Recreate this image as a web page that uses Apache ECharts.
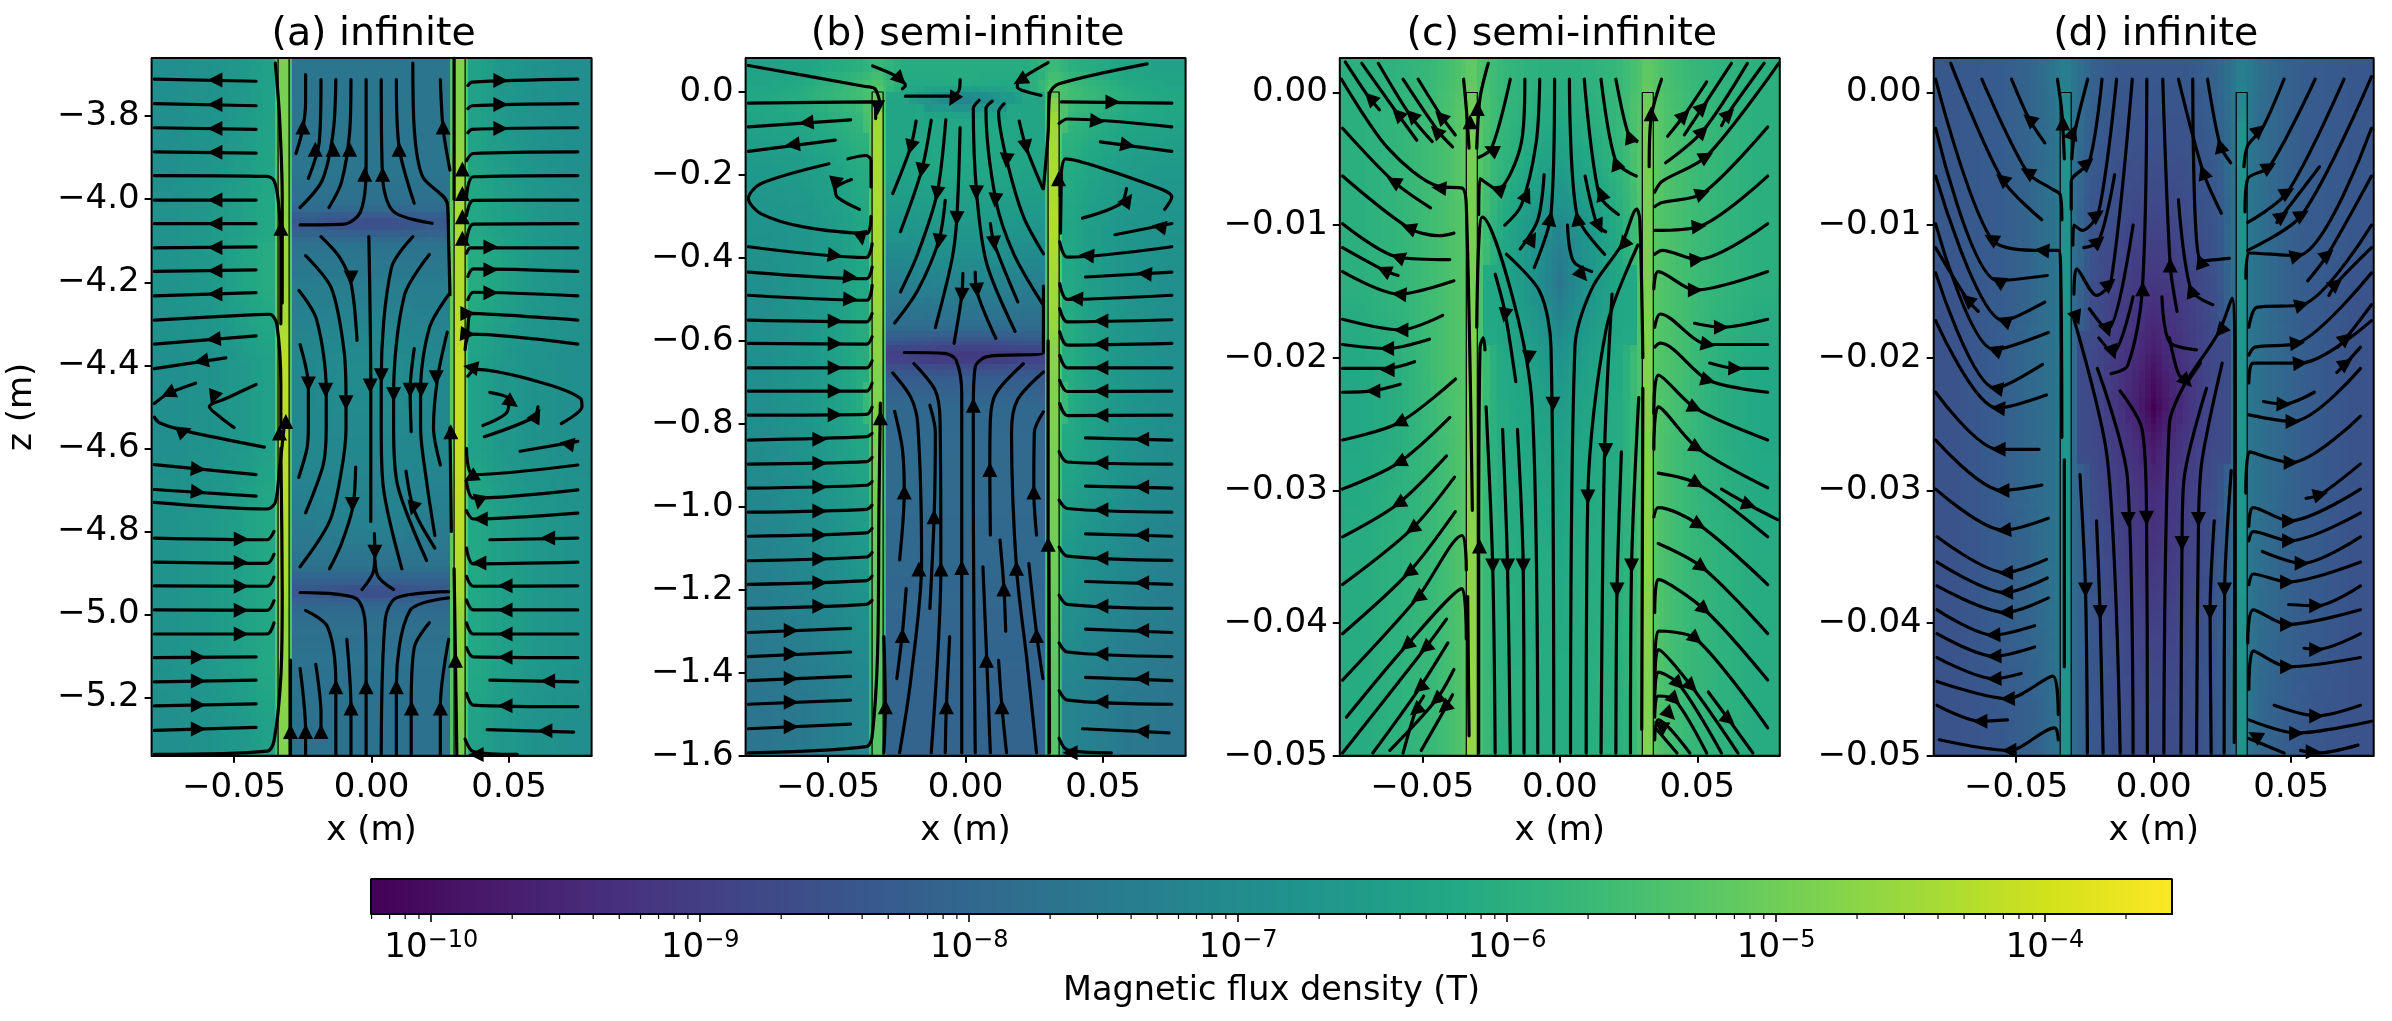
<!DOCTYPE html>
<html>
<head>
<meta charset="utf-8">
<title>Magnetic flux density</title>
<script src="https://cdn.jsdelivr.net/npm/echarts@6/dist/echarts.min.js"></script>
<style>
html, body { margin: 0; padding: 0; background: #fff; }
#chart { width: 2392px; height: 1021px; }
</style>
</head>
<body>
<div id="chart"></div>
<script>
// colour scale of the figure, log10(T)
var logMin = -10.224;
var logMax = -3.528;
var viridis = ['#440154','#481a6c','#472f7d','#414487','#39568c','#31688e','#2a788e','#23888e','#1f988b','#22a884','#35b779','#54c568','#7ad151','#a5db36','#d2e21b','#fde725'];
var colorbarTicks = [-10,-9,-8,-7,-6,-5,-4];

var panelTitles = ['(a) infinite','(b) semi-infinite','(c) semi-infinite','(d) infinite'];
var xTicks = [-0.05,0,0.05];
var zTicksA = [-3.8,-4.0,-4.2,-4.4,-4.6,-4.8,-5.0,-5.2];
var zTicksB = [0,-0.2,-0.4,-0.6,-0.8,-1.0,-1.2,-1.4,-1.6];
var zTicksC = [0,-0.01,-0.02,-0.03,-0.04,-0.05];
var zTicksD = [0,-0.01,-0.02,-0.03,-0.04,-0.05];
var wallEdges = [-34,-30,30,34]; // mm

// field grids: cell edges (x in mm, z in m for a,b and mm for c,d), values are 10*log10(B)
var columnsA = [-80,-65,-50,-42,-35,-34,-30,-29,-15,-5,5,15,28.5,30,34,35,42,50,65,80];
var rowsA = [-3.66,-3.85,-4.0,-4.03,-4.045,-4.075,-4.09,-4.13,-4.3,-4.5,-4.7,-4.85,-4.915,-4.93,-4.96,-4.98,-5.05,-5.2,-5.34];
var fieldA = [
[-69,-68,-66,-64,-54,-49,-55,-76,-76,-76,-76,-76,-54,-48,-54,-64,-66,-68,-69],
[-69,-67,-65,-63,-54,-48,-55,-76,-76,-76,-76,-76,-53,-46,-53,-63,-65,-67,-69],
[-68,-66,-64,-62,-53,-47,-54,-78,-78,-78,-78,-78,-52,-44,-52,-62,-64,-66,-68],
[-68,-66,-64,-62,-53,-47,-54,-82,-83,-83,-83,-82,-52,-44,-52,-62,-64,-66,-68],
[-68,-66,-64,-62,-53,-46,-54,-84,-87,-88,-87,-84,-52,-44,-52,-62,-64,-66,-68],
[-68,-66,-64,-62,-53,-46,-54,-81,-82,-82,-82,-81,-52,-44,-52,-62,-64,-66,-68],
[-68,-66,-63,-61,-52,-45,-53,-77,-77,-77,-77,-77,-51,-43,-51,-61,-63,-66,-68],
[-68,-66,-63,-61,-52,-45,-53,-74,-74,-74,-74,-74,-51,-43,-51,-61,-63,-66,-68],
[-69,-68,-66,-64,-53,-42,-54,-71,-70,-70,-70,-71,-52,-41,-52,-64,-66,-68,-69],
[-69,-68,-66,-64,-53,-42,-54,-71,-71,-71,-71,-71,-52,-41,-52,-64,-66,-68,-69],
[-68,-66,-64,-62,-53,-43,-54,-74,-73,-73,-73,-74,-52,-42,-52,-62,-64,-66,-68],
[-68,-66,-64,-62,-53,-44,-54,-77,-77,-77,-77,-77,-52,-43,-52,-62,-64,-66,-68],
[-68,-66,-64,-62,-53,-44,-54,-82,-82,-82,-82,-82,-52,-44,-52,-62,-64,-66,-68],
[-68,-66,-64,-62,-53,-45,-54,-84,-87,-88,-87,-84,-52,-44,-52,-62,-64,-66,-68],
[-68,-66,-64,-62,-53,-45,-54,-81,-81,-81,-81,-81,-52,-45,-52,-62,-64,-66,-68],
[-68,-66,-64,-62,-53,-46,-54,-78,-78,-78,-78,-78,-53,-46,-53,-62,-64,-66,-68],
[-68,-66,-64,-62,-54,-46,-55,-77,-77,-77,-77,-77,-53,-47,-53,-62,-64,-66,-68],
[-69,-68,-66,-64,-55,-48,-56,-77,-77,-77,-77,-77,-54,-49,-54,-64,-66,-68,-69]
];
var columnsB = [-80,-65,-50,-42,-35.2,-34,-30,-29,-15,-5,5,15,29,30,34,35,42,50,65,80];
var rowsB = [0.082,0.03,0,-0.03,-0.1,-0.25,-0.4,-0.55,-0.59,-0.61,-0.625,-0.655,-0.67,-0.7,-0.8,-1.0,-1.3,-1.6];
var fieldB = [
[-64,-63,-61,-60,-58,-57,-58,-61,-61,-61,-61,-61,-58,-57,-58,-60,-61,-63,-64],
[-63,-61,-58,-56,-54,-54,-56,-62,-62,-61,-62,-62,-56,-54,-54,-56,-58,-61,-63],
[-62,-60,-57,-56,-54,-50,-55,-63,-70,-74,-70,-63,-55,-49,-54,-56,-57,-60,-62],
[-63,-62,-60,-58,-53,-45,-54,-63,-62,-62,-62,-63,-54,-45,-53,-58,-60,-62,-63],
[-66,-65,-63,-61,-53,-44,-54,-63,-62,-62,-62,-63,-54,-44,-53,-61,-63,-65,-66],
[-68,-67,-65,-63,-53,-44,-54,-67,-66,-66,-66,-67,-54,-43,-53,-63,-65,-67,-68],
[-69,-67,-65,-62,-53,-45,-54,-74,-73,-73,-73,-74,-54,-45,-53,-62,-65,-67,-69],
[-69,-67,-64,-61,-53,-47,-55,-79,-79,-79,-79,-79,-55,-46,-53,-61,-64,-67,-69],
[-69,-67,-64,-61,-53,-47,-55,-84,-85,-85,-85,-84,-55,-47,-53,-61,-64,-67,-69],
[-69,-67,-64,-61,-53,-47,-55,-88,-89,-89,-89,-88,-55,-47,-53,-61,-64,-67,-69],
[-69,-67,-64,-61,-53,-47,-55,-90,-92,-92,-92,-90,-55,-47,-53,-61,-64,-67,-69],
[-69,-67,-64,-61,-53,-48,-55,-86,-87,-87,-87,-86,-55,-47,-53,-61,-64,-67,-69],
[-69,-67,-64,-61,-53,-48,-55,-83,-83,-83,-83,-83,-55,-48,-53,-61,-64,-67,-69],
[-69,-67,-64,-61,-54,-48,-56,-80,-80,-80,-80,-80,-55,-48,-54,-61,-64,-67,-69],
[-70,-68,-65,-63,-55,-49,-56,-79,-79,-79,-79,-79,-56,-49,-55,-63,-65,-68,-70],
[-73,-71,-69,-67,-56,-51,-57,-80,-80,-80,-80,-80,-56,-50,-56,-67,-69,-71,-73],
[-76,-75,-73,-72,-57,-53,-58,-81,-81,-81,-81,-81,-57,-53,-57,-72,-73,-75,-76]
];
var columnsC = [-80,-65,-50,-42,-36,-34,-30,-28,-18,-8,-3,3,8,18,28,30,34,36,42,50,65,80];
var rowsC = [2.6,0,-4,-8,-11,-13,-16,-19,-23,-30,-40,-50];
var fieldC = [
[-60,-59,-57,-55,-53,-52,-54,-57,-59,-60,-60,-60,-59,-57,-54,-52,-53,-55,-57,-59,-60],
[-60,-58,-56,-54,-52,-49,-53,-57,-60,-61,-62,-61,-60,-57,-53,-49,-52,-54,-56,-58,-60],
[-60,-58,-56,-54,-52,-49,-53,-58,-62,-64,-65,-64,-62,-58,-53,-49,-52,-54,-56,-58,-60],
[-60,-58,-56,-54,-53,-49,-54,-60,-65,-68,-70,-68,-65,-60,-54,-49,-53,-54,-56,-58,-60],
[-60,-58,-56,-54,-53,-49,-54,-61,-66,-70,-74,-70,-66,-61,-54,-49,-53,-54,-56,-58,-60],
[-60,-58,-56,-54,-53,-49,-54,-62,-66,-71,-76,-71,-66,-62,-54,-49,-53,-54,-56,-58,-60],
[-61,-59,-56,-54,-53,-48,-54,-62,-65,-68,-71,-68,-65,-62,-54,-48,-53,-54,-56,-59,-61],
[-62,-60,-56,-54,-53,-48,-54,-61,-63,-65,-67,-65,-63,-61,-54,-48,-53,-54,-56,-60,-62],
[-62,-60,-57,-55,-53,-48,-55,-61,-62,-63,-64,-63,-62,-61,-55,-48,-53,-55,-57,-60,-62],
[-61,-59,-57,-55,-53,-47,-55,-60,-61,-61,-62,-61,-61,-60,-55,-47,-53,-55,-57,-59,-61],
[-61,-59,-57,-55,-53,-46,-55,-60,-60,-61,-61,-61,-60,-60,-55,-48,-53,-55,-57,-59,-61]
];
var columnsD = [-80,-65,-50,-42,-36,-34,-30,-28,-18,-8,-3,3,8,18,28,30,34,36,42,50,65,80];
var rowsD = [2.6,0,-5,-10,-14,-18,-21,-22.5,-25,-28,-32,-38,-44,-50];
var fieldD = [
[-84,-83,-81,-78,-75,-74,-76,-81,-84,-84,-84,-84,-84,-81,-76,-74,-75,-78,-81,-83,-84],
[-84,-83,-81,-79,-76,-68,-77,-82,-85,-85,-85,-85,-85,-82,-77,-68,-76,-79,-81,-83,-84],
[-84,-83,-81,-78,-76,-68,-78,-84,-86,-87,-87,-87,-86,-84,-78,-68,-76,-78,-81,-83,-84],
[-84,-83,-81,-78,-76,-68,-78,-85,-88,-90,-90,-90,-88,-85,-78,-68,-76,-78,-81,-83,-84],
[-85,-83,-81,-78,-76,-67,-79,-86,-90,-92,-93,-92,-90,-86,-79,-67,-76,-78,-81,-83,-85],
[-85,-83,-80,-78,-76,-67,-79,-87,-91,-94,-97,-94,-91,-87,-79,-67,-76,-78,-80,-83,-85],
[-85,-83,-80,-78,-76,-67,-79,-87,-92,-96,-100,-96,-92,-87,-79,-67,-76,-78,-80,-83,-85],
[-85,-83,-80,-78,-76,-67,-79,-87,-92,-97,-102,-97,-92,-87,-79,-67,-76,-78,-80,-83,-85],
[-85,-83,-80,-78,-76,-67,-79,-87,-91,-94,-98,-94,-91,-87,-79,-67,-76,-78,-80,-83,-85],
[-85,-83,-80,-78,-76,-67,-79,-86,-90,-92,-94,-92,-90,-86,-79,-67,-76,-78,-80,-83,-85],
[-85,-83,-81,-78,-76,-67,-79,-85,-89,-91,-92,-91,-89,-85,-79,-67,-76,-78,-81,-83,-85],
[-85,-83,-81,-79,-76,-68,-79,-84,-87,-89,-89,-89,-87,-84,-79,-68,-76,-79,-81,-83,-85],
[-85,-84,-82,-80,-77,-68,-79,-84,-86,-87,-87,-87,-86,-84,-79,-68,-77,-80,-82,-84,-85]
];

// streamlines as [x mm, z], arrows as [x mm, z, heading in degrees counterclockwise from up]
var streamsA = [
[[-42,-3.716],[-79,-3.711]],[[-42,-3.775],[-79,-3.77]],[[-42,-3.832],[-79,-3.828]],[[-42,-3.889],[-79,-3.886]],
[[-79,-3.943],[-38,-3.945],[-35.5,-3.955],[-34,-4.0],[-33,-4.1],[-33,-4.3]],
[[-42,-4.002],[-79,-4.002]],[[-42,-4.059],[-79,-4.059]],[[-42,-4.115],[-79,-4.117]],[[-42,-4.17],[-79,-4.174]],[[-42,-4.225],[-79,-4.233]],
[[-79,-4.291],[-42,-4.278],[-37,-4.277],[-34.5,-4.3],[-33,-4.45],[-33,-4.55]],
[[-42,-4.329],[-79,-4.349]],[[-53,-4.382],[-79,-4.408]],[[-64,-4.443],[-74,-4.468],[-79,-4.492]],
[[-42,-4.446],[-53,-4.48],[-59,-4.5],[-55,-4.525],[-50,-4.55]],
[[-79,-4.525],[-77,-4.539],[-67,-4.559],[-39,-4.597]],
[[-35,-3.672],[-33.5,-3.8],[-32.5,-4.0],[-32.5,-4.25]],
[[-79,-4.639],[-42,-4.663]],[[-79,-4.699],[-42,-4.715]],
[[-79,-4.73],[-38,-4.746],[-35,-4.73],[-33.5,-4.65],[-31.5,-4.53]],
[[-79,-4.816],[-38,-4.82],[-35.5,-4.80]],[[-79,-4.874],[-38,-4.877],[-35.5,-4.855]],[[-79,-4.931],[-38,-4.932],[-35.5,-4.91]],
[[-79,-4.989],[-38,-4.99],[-35.5,-4.967]],[[-79,-5.047],[-38,-5.047],[-35.5,-5.02]],
[[-79,-5.104],[-42,-5.102]],[[-79,-5.162],[-42,-5.158]],[[-79,-5.22],[-42,-5.215]],[[-79,-5.279],[-42,-5.272]],
[[-79,-5.337],[-38,-5.329],[-35.5,-5.305],[-33,-5.15],[-32.5,-4.95],[-33,-4.6]],
[[35,-3.726],[36.5,-3.718],[75,-3.711]],[[35,-3.782],[36.5,-3.775],[75,-3.77]],[[35,-3.84],[36.5,-3.832],[75,-3.828]],
[[34.5,-3.907],[37,-3.89],[75,-3.886]],[[34.5,-3.995],[37,-3.946],[75,-3.943]],[[34.5,-4.04],[37,-4.003],[75,-4.002]],
[[34.5,-4.10],[37,-4.06],[75,-4.059]],[[34.5,-4.13],[36,-4.117],[75,-4.117]],[[35,-4.186],[37,-4.168],[75,-4.174]],
[[35,-4.242],[37,-4.224],[75,-4.233]],[[35,-4.322],[36,-4.275],[75,-4.291]],[[34,-4.362],[36,-4.325],[75,-4.349]],
[[35,-4.426],[38,-4.41],[61,-4.44],[76,-4.48],[76.5,-4.5],[69,-4.54]],
[[43,-4.465],[50,-4.482],[49,-4.515],[40.5,-4.545]],
[[60.5,-4.5],[59,-4.525],[41,-4.572]],
[[54,-4.607],[75,-4.583]],[[75,-4.64],[37,-4.663],[34.5,-4.60]],[[75,-4.70],[37,-4.72],[34.5,-4.68]],[[75,-4.756],[37,-4.77],[34.5,-4.75]],
[[75,-4.816],[43,-4.82]],[[75,-4.874],[37,-4.878],[34.5,-4.84]],[[75,-4.931],[37,-4.932],[34.5,-4.908]],
[[75,-4.989],[37,-4.989],[34.5,-4.965]],[[75,-5.047],[37,-5.047],[34.5,-5.02]],[[75,-5.104],[37,-5.102],[34.5,-5.08]],
[[75,-5.162],[43,-5.158]],[[75,-5.222],[37,-5.218],[34.5,-5.19]],[[73.5,-5.283],[42,-5.277]],[[53,-5.337],[37,-5.33],[34,-5.30]],
[[-24,-3.70],[-24,-3.765],[-25,-3.83],[-27.5,-3.89]],[[-18.4,-3.712],[-19,-3.86],[-23,-3.95]],
[[-13,-3.712],[-14,-3.84],[-18,-3.955],[-26,-4.02]],[[-7.5,-3.712],[-8,-3.84],[-11,-3.96],[-15.5,-4.02]],
[[-2,-3.712],[-2,-3.925],[-4,-4.03],[-10,-4.06],[-26,-4.062]],[[3.5,-3.712],[4,-3.95],[8,-4.03],[22,-4.058]],
[[9,-3.712],[10,-3.875],[15.5,-4.01]],[[15,-3.672],[15.5,-3.83],[18.5,-3.945],[27.5,-4.01],[28,-4.1],[28.5,-4.23]],
[[25,-3.712],[26,-3.83],[28.5,-3.93]],
[[-18.4,-4.09],[-11.6,-4.14],[-7.4,-4.205],[-5.3,-4.34]],
[[-24,-4.136],[-14.7,-4.213],[-10,-4.366],[-9.3,-4.49],[-9.3,-4.551],[-11,-4.655],[-15.3,-4.776],[-26,-4.885]],
[[-26.4,-4.22],[-20,-4.29],[-16.5,-4.46],[-16.5,-4.55],[-17.6,-4.64],[-24,-4.755]],
[[-26,-4.35],[-23,-4.45],[-23,-4.55],[-23.5,-4.6],[-26.5,-4.67]],
[[-1,-4.09],[-0.3,-4.45],[-0.3,-4.776]],
[[15,-4.09],[7.2,-4.165],[3.5,-4.43],[3.5,-4.55],[4.2,-4.69],[11,-4.89]],
[[21,-4.133],[12,-4.23],[8,-4.47],[8,-4.55],[9.5,-4.69],[20,-4.87]],
[[28,-4.23],[21,-4.31],[17.8,-4.46],[17.8,-4.55],[20,-4.68],[23,-4.81]],
[[15.5,-4.36],[14,-4.46],[14.4,-4.56]],[[27.5,-4.32],[24,-4.43],[22.5,-4.55],[25,-4.64]],
[[12.5,-4.655],[15.5,-4.75],[23,-4.84]],[[-5.8,-4.645],[-6.8,-4.74],[-11,-4.83],[-15.3,-4.89]],
[[1,-4.805],[1.2,-4.855],[0.5,-4.9],[-3.5,-4.94]],[[1.2,-4.87],[2.5,-4.91],[8,-4.94]],
[[-26,-4.947],[-6,-4.96],[-2.5,-5.01],[-2,-5.12],[-2,-5.337]],[[28,-4.945],[9,-4.96],[5,-5.01],[3.5,-5.337]],
[[-24,-4.99],[-16,-5.03],[-13,-5.17],[-13,-5.337]],[[28,-4.96],[14,-4.99],[9,-5.17],[9,-5.337]],
[[21,-5.02],[15.5,-5.08],[14.4,-5.22],[14.4,-5.337]],[[-9,-5.06],[-7.5,-5.225],[-7.5,-5.337]],
[[-20.3,-5.12],[-18.4,-5.24],[-18.4,-5.283]],[[-26,-5.13],[-24,-5.28],[-24,-5.337]],[[-29.5,-5.11],[-29.5,-5.337]],
[[28,-5.06],[25,-5.22],[25,-5.337]],[[30,-4.89],[30.5,-5.11],[31,-5.337]],[[30,-3.66],[30,-4.0]],[[28.5,-4.55],[29,-4.8]]
];
var arrowsA = [
[-57,-3.713,90],[-57,-3.772,90],[-57,-3.83,90],[-57,-3.887,90],[-33,-4.07,0],[-57,-4.002,90],[-57,-4.059,90],[-57,-4.116,90],[-57,-4.172,90],[-57,-4.228,90],
[-57.6,-4.337,95],[-62,-4.39,100],[-74,-4.468,115],[-57.5,-4.478,160],[-68,-4.558,-70],
[-63,-4.65,-95],[-63,-4.705,-95],[-47.4,-4.818,-90],[-47.4,-4.875,-90],[-47.4,-4.932,-90],[-47.4,-4.99,-90],[-47.4,-5.047,-90],
[-63,-5.103,-90],[-63,-5.16,-90],[-63,-5.218,-90],[-63,-5.276,-90],[-33.5,-4.563,0],[-31.2,-4.535,0],
[47,-3.714,-90],[47,-3.772,-90],[47,-3.83,-90],[33,-3.927,0],[33,-3.986,0],[33,-4.042,0],[33,-4.094,0],
[43.4,-4.115,-90],[43.4,-4.17,-90],[43.4,-4.225,-90],[35,-4.275,-90],[35,-4.325,-95],[36,-4.405,80],[51,-4.49,-125],[60,-4.52,-30],
[71,-4.589,80],[36,-4.67,120],[39,-4.73,170],[39.5,-4.77,90],[64,-4.816,90],[39,-4.876,90],[48.5,-4.931,90],[48.5,-4.989,90],[48.5,-5.047,90],[48.5,-5.103,90],
[64,-5.16,90],[48.5,-5.22,90],[63,-5.28,90],[38,-5.337,90],
[-25,-3.826,0],[-20.5,-3.88,0],[-14,-3.88,0],[-8,-3.88,0],[-2.5,-3.94,0],[4,-3.94,0],[10,-3.88,0],[26,-3.826,0],
[-7.5,-4.19,180],[-9.3,-4.49,180],[-16.7,-4.46,180],[-23,-4.445,180],[-0.5,-4.45,180],[3.5,-4.425,180],[8,-4.47,180],[18,-4.46,180],[14,-4.46,180],[23.5,-4.43,180],
[15,-4.745,165],[-7,-4.735,180],[1.2,-4.85,180],
[-2,-5.174,0],[-13,-5.174,0],[9,-5.174,0],[14.5,-5.225,0],[-7.5,-5.225,0],[-18.4,-5.282,0],[-24,-5.282,0],[-29.5,-5.282,0],[25,-5.225,0],[30.5,-5.11,0],[28.8,-4.56,0]
];

var streamsB = [
[[-79,0.064],[-37,0.014],[-33,0.008],[-31,-0.03]],[[-79,-0.027],[-35,-0.024],[-32.7,-0.028],[-32.7,-0.064]],
[[-41.8,-0.067],[-79,-0.084]],[[-47.4,-0.116],[-79,-0.143]],
[[-33.8,0.063],[-25.8,0.04],[-21.9,0.016],[-23,0.008]],[[30,0.071],[19.5,0.028],[18.8,0.012],[27.4,-0.008]],
[[-2,0.03],[-2.4,0.004],[-4.9,-0.01],[-21.9,-0.01]],
[[66,0.068],[34,0.02],[30.6,-0.004],[30,-0.1],[28.3,-0.233]],
[[34.8,-0.024],[75,-0.027]],[[34,-0.076],[37,-0.065],[75,-0.084]],[[49,-0.12],[75,-0.143]],
[[34.4,-0.25],[36.4,-0.161],[66,-0.221],[75,-0.253],[72.4,-0.283]],[[34.5,-0.34],[34.8,-0.2]],
[[42.5,-0.304],[56.4,-0.269],[58.5,-0.233]],[[54.3,-0.344],[75,-0.317]],
[[-34.4,-0.229],[-34.4,-0.165],[-36.2,-0.153],[-42.8,-0.161]],
[[-49.7,-0.173],[-74.5,-0.221],[-79,-0.257],[-74.5,-0.293],[-59,-0.325],[-36,-0.341],[-34.4,-0.30]],
[[-41.5,-0.211],[-47.4,-0.233],[-46.7,-0.253],[-38.6,-0.283]],
[[-79,-0.373],[-36.2,-0.399],[-34,-0.366]],[[-79,-0.434],[-36,-0.45],[-34,-0.422]],[[-79,-0.49],[-36,-0.502],[-34,-0.466]],
[[-79,-0.55],[-36,-0.554],[-34,-0.534]],[[-79,-0.606],[-36,-0.608],[-34,-0.59]],[[-79,-0.665],[-36,-0.665],[-34,-0.648]],
[[-79,-0.721],[-36,-0.721],[-34,-0.702]],[[-79,-0.779],[-36,-0.777],[-34,-0.76]],[[-79,-0.839],[-36,-0.831],[-34,-0.823]],
[[-79,-0.897],[-36,-0.891],[-34,-0.881]],[[-79,-0.955],[-36,-0.948],[-34,-0.939]],[[-79,-1.013],[-36,-1.006],[-34,-0.996]],
[[-79,-1.071],[-36,-1.063],[-34,-1.052]],[[-79,-1.13],[-36,-1.121],[-34,-1.11]],[[-79,-1.187],[-36,-1.178],[-34,-1.167]],
[[-79,-1.245],[-36,-1.235],[-34,-1.225]],[[-79,-1.303],[-41.8,-1.293]],[[-79,-1.361],[-41.8,-1.35]],[[-79,-1.419],[-41.8,-1.409]],
[[-79,-1.476],[-41.8,-1.466]],[[-79,-1.535],[-41.8,-1.524]],
[[-79,-1.593],[-36,-1.578],[-34,-1.554],[-32,-1.35],[-31.5,-1.0],[-31,-0.75]],
[[75,-0.373],[37,-0.398],[34.2,-0.361]],[[75,-0.434],[43.6,-0.446]],[[75,-0.49],[37,-0.5],[34.2,-0.462]],
[[75,-0.549],[37,-0.554],[34.2,-0.522]],[[75,-0.606],[37,-0.61],[34.2,-0.578]],[[75,-0.665],[37,-0.665],[34.2,-0.635]],
[[75,-0.721],[37,-0.722],[34.2,-0.695]],[[75,-0.779],[37,-0.78],[34.2,-0.751]],[[75,-0.839],[43.6,-0.834]],
[[75,-0.897],[37,-0.892],[34,-0.867]],[[75,-0.955],[43.6,-0.95]],[[75,-1.013],[37,-1.004],[34,-0.984]],[[75,-1.071],[43.6,-1.065]],
[[75,-1.129],[37,-1.119],[34,-1.097]],[[75,-1.187],[43.6,-1.18]],[[75,-1.245],[37,-1.235],[34,-1.213]],[[75,-1.303],[43.6,-1.295]],
[[75,-1.361],[37,-1.35],[34,-1.328]],[[75,-1.419],[43.6,-1.411]],[[75,-1.476],[37,-1.466],[34,-1.443]],[[74,-1.545],[42.5,-1.535]],
[[53,-1.593],[37,-1.586],[34,-1.558]],
[[-18,-0.07],[-20,-0.133],[-26.5,-0.245]],[[-12.5,-0.068],[-16,-0.189],[-23.7,-0.337]],
[[-7.2,-0.067],[-10.4,-0.245],[-17.4,-0.39],[-23.7,-0.482]],[[-2,-0.086],[-3.2,-0.305],[-5,-0.405],[-11,-0.568]],
[[-7.4,-0.261],[-9.7,-0.357],[-17.4,-0.478],[-25.8,-0.557]],
[[4.9,-0.02],[2.8,-0.04],[4,-0.243],[7.7,-0.414],[18,-0.577]],[[9.7,-0.022],[7.4,-0.04],[11,-0.261],[17.5,-0.39],[27.9,-0.51]],
[[14,-0.028],[12,-0.048],[15,-0.165],[21,-0.3],[28.3,-0.39]],[[19.5,-0.07],[22,-0.133],[28.1,-0.233]],
[[9,-0.317],[10.4,-0.365],[19,-0.506]],[[3.5,-0.434],[4,-0.478],[11,-0.594]],[[-1,-0.437],[-1.4,-0.49],[-4.2,-0.606]],
[[-22.3,-0.628],[-7.7,-0.63],[-3.5,-0.646],[-1.4,-0.727],[-1.4,-0.791],[-1.4,-1.593]],
[[28.3,-0.468],[28.3,-0.628],[7.7,-0.638],[3.5,-0.663],[2.8,-0.763],[2.8,-1.0],[3.5,-1.593]],
[[-26.5,-0.677],[-20,-0.735],[-17.4,-0.80],[-16,-1.136],[-20,-1.42],[-24,-1.593]],
[[-18.8,-0.655],[-11,-0.72],[-9.3,-0.791],[-9,-1.145],[-12.5,-1.593]],
[[-13,-0.755],[-11,-0.82],[-11.4,-1.016],[-13,-1.245]],[[-25.8,-0.77],[-23,-0.86],[-22.3,-0.964],[-24,-1.128]],
[[-21.6,-1.197],[-23,-1.305],[-25,-1.414]],[[-29.7,-1.313],[-29.2,-1.482],[-29.7,-1.593]],[[-5.8,-1.313],[-7,-1.482],[-7.4,-1.593]],
[[12.5,-1.08],[13.9,-1.193],[14.6,-1.3]],[[6.3,-1.145],[7.7,-1.37],[9,-1.593]],[[12,-1.37],[13.2,-1.482],[14.9,-1.593]],
[[21,-0.655],[11,-0.727],[9,-0.791],[8.8,-0.904],[9,-1.068]],
[[28.3,-0.675],[18.8,-0.743],[16.7,-0.82],[18.5,-1.148],[22.3,-1.37],[25.8,-1.593]],
[[28.3,-0.771],[25,-0.82],[24.8,-0.964],[25.8,-1.068]],[[23,-1.137],[25.8,-1.305],[28.1,-1.414]],
[[30,-0.6],[30,-1.1]],[[30.5,-1.593],[30.3,-1.1]]
];
var arrowsB = [
[-32,-0.038,180],[-58,-0.074,95],[-63,-0.127,97],[-23.7,0.03,-135],[19.8,0.028,120],[-4.6,-0.018,150],
[53.6,-0.024,-90],[48,-0.07,-95],[59,-0.128,-100],[33.8,-0.209,0],[59,-0.26,-35],[70.3,-0.325,80],[-37.9,-0.353,190],[-47.4,-0.222,170],
[-47.4,-0.394,-97],[-41.8,-0.446,-95],[-41.8,-0.5,-93],[-47.4,-0.552,-90],[-47.4,-0.607,-90],[-47.4,-0.665,-90],[-47.4,-0.721,-90],[-47.4,-0.778,-90],
[-53,-0.837,-90],[-53,-0.895,-90],[-53,-0.952,-90],[-53,-1.01,-90],[-53,-1.068,-90],[-53,-1.126,-90],[-53,-1.183,-90],[-53,-1.24,-90],
[-63.4,-1.298,-90],[-63.4,-1.355,-90],[-63.4,-1.414,-90],[-63.4,-1.471,-90],[-63.4,-1.53,-90],[-31,-0.785,0],
[44,-0.394,85],[65,-0.438,85],[40,-0.498,87],[49.2,-0.552,90],[49.2,-0.608,90],[49.2,-0.665,90],[49.2,-0.721,90],[49.2,-0.779,90],
[64,-0.837,90],[49.2,-0.894,90],[64,-0.952,90],[49.2,-1.007,90],[64,-1.068,90],[49.2,-1.124,90],[64,-1.183,90],[49.2,-1.24,90],[64,-1.298,90],[49.2,-1.355,90],[64,-1.414,90],[49.2,-1.47,90],[64,-1.541,87],[38,-1.593,90],
[-20,-0.133,165],[-16,-0.189,170],[-10.4,-0.245,172],[-3.2,-0.305,178],[-9.7,-0.36,172],[3.9,-0.243,178],[10.8,-0.261,175],[14.9,-0.165,175],[22,-0.133,190],
[10.4,-0.365,185],[4.2,-0.478,185],[-1.4,-0.49,178],[-1.4,-1.146,0],[2.8,-0.755,0],[-17,-1.15,0],[-9,-1.15,0],[-11.5,-1.024,0],[-22.3,-0.964,0],[-23,-1.31,0],
[-29.2,-1.482,0],[-7,-1.482,0],[13.9,-1.198,0],[7.6,-1.37,0],[13.2,-1.482,0],[8.8,-0.91,0],[18.5,-1.148,0],[24.8,-0.964,0],[25.8,-1.31,0],[30,-1.09,0]
];

var streamsC = [
[[-78,2.3],[-70,-0.2],[-65.6,-1.3]],[[-72,2.2],[-59,-1.6],[-52,-3.6]],[[-66,2.2],[-54.5,-1.7],[-46.4,-3.7]],[[-57,1],[-44.3,-2.9],[-39,-4.1]],[[-51.5,1],[-43,-1.8],[-38,-3.2]],
[[-79.4,1],[-62.5,-4.2],[-43.7,-7.1],[-35.6,-7.2],[-34,-8.5],[-31.8,-31.5]],
[[-79,-2.7],[-60.5,-6.7],[-47,-8.7]],[[-79,-6.3],[-55,-10.2],[-43.7,-10.8],[-38.5,-10.6]],[[-79,-9.9],[-59,-12.4],[-40,-12.6]],
[[-79,-11.7],[-64,-13.4],[-58.8,-13.8]],[[-79,-13.5],[-58.5,-15.2],[-38.5,-14.2]],[[-79,-17.1],[-57.8,-17.9],[-42.6,-16.8]],
[[-79,-19],[-63,-19.3],[-47.4,-18.6]],[[-79,-20.8],[-62.8,-20.8],[-52.8,-20.3]],[[-79,-22.6],[-68,-22.5],[-58,-22]],
[[-79,-26.2],[-58.5,-24.9],[-37.9,-21.6]],[[-79,-29.9],[-58.5,-27.9],[-40,-24.5]],[[-79,-33.5],[-58.8,-31],[-41.2,-27.4]],
[[-79,-37.1],[-53.8,-32.9],[-38.3,-29]],[[-79,-40.8],[-55,-36.2],[-38,-31.6]],
[[-79,-44.3],[-51.8,-38.1],[-35.6,-33.4],[-34,-36]],[[-77.6,-47.1],[-55.8,-41.7],[-35.6,-37.4],[-34,-41.2]],
[[-79,-49.8],[-49,-41.9],[-41.2,-39.7]],[[-68,-49.8],[-51,-44.9],[-40.7,-41.5]],[[-61.8,-49.6],[-45,-45.8],[-38.5,-43.5]],
[[-57,-49.8],[-52.4,-46.6],[-49.5,-45.5]],[[-50.4,-49.6],[-41.6,-46.4],[-39,-45.4]],
[[-35,1],[-34,-1.2],[-33,-4.2]],[[-26,2.2],[-29,-0.4],[-30.2,-4.2]],[[-29.5,-4.9],[-24.8,-4.2],[-18,1]],
[[-29.5,-9.2],[-29,-6.5],[-22.8,-7.3],[-14,-3.8],[-12.7,1]],[[-7.3,1],[-8.6,-3.8],[-14,-8.5],[-20,-10]],
[[-5.7,-6.2],[-8,-9.6],[-14.4,-11.8]],[[-1.9,1],[-3.2,-9.2],[-9.3,-13.2]],[[3.5,1],[6.2,-9.2],[16.3,-12.2]],
[[8.9,1],[14.3,-7.7],[21.3,-9.2]],[[15,1],[20.4,-5.2],[27.8,-6.3]],[[20.4,1],[25,-3.2],[28,-3.7]],
[[9.2,-6.3],[13.6,-10],[16.7,-10.5]],[[2.8,-10],[4.9,-12.7],[11.6,-13.5]],
[[-19.4,-12.2],[-7.3,-15],[-3.2,-19.2],[-2.2,-49.8]],[[-30.2,-17.7],[-29.5,-11.5],[-28.2,-9.4],[-16.7,-15.8],[-10,-23.8],[-8,-49.8]],
[[-23.5,-13.7],[-20,-16.5],[-16,-21.8]],[[-26.8,-23.7],[-24.4,-35.7],[-23.5,-49.8]],[[-20.8,-25.4],[-19,-35.7],[-18,-49.8]],[[-15.4,-25.4],[-13.3,-35.7],[-13,-49.8]],
[[-29.5,-49.8],[-29.5,-33.8],[-29,-19.2],[-27.8,-18.5],[-27.2,-19.4]],[[-33,-48.5],[-33.5,-38]],
[[30.2,-20],[29.1,-9.6],[28,-8.8],[22.4,-11.5],[11.6,-14.8],[5.5,-19.2],[3.9,-49.8]],
[[28.4,-11.5],[17,-17.7],[10.2,-30.4],[9.6,-49.8]],[[19,-15.2],[16.3,-26.9],[15,-49.8]],[[22.4,-27.1],[20.8,-37.5],[20.4,-49.8]],
[[28.7,-23],[26.1,-35.7],[25.7,-49.8]],[[30.2,-22.3],[29.8,-48]],[[37,1],[33.2,-1.9],[32.5,-5.6]],
[[39.2,-3.3],[45.3,-1.7],[53.4,0.8]],[[45.3,-3.2],[52,-1.1],[62.4,2.2]],[[38.5,-5.3],[52,-2.9],[68.2,2.2]],[[58.8,-2.5],[61.5,-1.5],[74.3,2.2]],
[[34.5,-7.5],[37.2,-6.7],[53.4,-4.8],[79.6,2.2]],[[34.5,-8.6],[37.2,-8.3],[52,-7.6],[75.6,-2.6]],[[34.5,-10.4],[50.7,-10.1],[75.6,-6.3]],
[[34.5,-12.2],[37.2,-11.9],[50,-12.6],[75.6,-9.9]],[[34.2,-14.8],[35.8,-13.5],[49.3,-14.9],[75.6,-13.5]],
[[34.5,-17.7],[36.5,-16.7],[54,-19],[75.6,-19]],[[49,-17.4],[58.8,-17.7],[75.6,-17.1]],[[34.5,-19.2],[36.5,-18.9],[54,-21.7],[75.6,-22.6]],
[[54.5,-20.4],[64,-20.8],[75.6,-20.8]],[[34.2,-24.2],[35.8,-21.3],[49.3,-23.8],[75.6,-26.2]],[[34.2,-26.9],[35.8,-23.7],[50,-26.8],[75.6,-29.8]],
[[35.8,-28.7],[50,-29.5],[75.6,-33.5]],[[58.8,-29.9],[68.9,-31.1],[79.2,-32.2]],[[34.2,-32],[35.8,-31.3],[50.7,-32.6],[75.6,-37.1]],
[[35.8,-34],[51.8,-35.8],[75.6,-40.8]],[[34.5,-39.2],[35.8,-36.7],[52.7,-39],[75.6,-44.3]],[[34.5,-43.8],[35.8,-40.6],[49.6,-41.2],[75.6,-47.9]],
[[34.5,-45],[35.8,-42],[48,-44.8],[64.8,-49.8]],[[34.5,-45.9],[35.8,-43.7],[43.3,-44.6],[58.8,-49.8]],[[34.5,-47.1],[35.8,-45.5],[41.9,-45.8],[53.4,-49.8]],
[[34.5,-48.8],[35.8,-47.3],[47.3,-49.8]],[[35.2,-48],[42.6,-49.8]],[[54,-45.2],[61.5,-47.3],[70.2,-49.8]]
];
var arrowsC = [
[-69,-0.4,45],[-59,-1.6,45],[-54,-1.7,45],[-45,-2.9,45],[-43.4,-1.8,45],[-60.5,-6.7,60],[-55,-10.2,70],[-59,-12.4,70],[-64,-13.4,65],[-58.5,-15.2,85],[-57.8,-17.9,90],
[-63,-19.3,90],[-62.8,-20.9,90],[-68,-22.5,90],[-58.5,-24.9,115],[-58.5,-27.9,115],[-58.8,-31,120],[-53.8,-32.9,125],[-55,-36.2,125],[-51.8,-38.1,125],[-55.8,-41.7,130],
[-49,-41.9,130],[-51,-44.9,130],[-45,-45.8,130],[-52.4,-46.6,130],[-42,-46.4,130],[-44,-7.2,85],
[-32.6,-2.2,0],[-30,-1.2,0],[-25,-4.3,65],[-22.8,-7.3,70],[-12,-7.7,-25],[-10,-11,-30],[-3.5,-9.5,-10],[6.4,-9.5,10],[15,-7.6,20],[20.4,-5.3,20],[25.3,-3.3,20],
[14.3,-10.1,205],[8.2,-13.8,220],[-2.5,-23.5,180],[-11.3,-20,175],[-20,-16.8,170],[-24.4,-35.7,180],[-19,-35.7,180],[-13.3,-35.7,180],[-29.2,-34.2,0],
[23,-11.5,140],[10.2,-30.5,180],[16.7,-27,180],[20.8,-37.5,180],[26.1,-35.7,180],[33.2,-1.6,0],
[45.3,-1.7,-45],[52,-1.1,-45],[52,-2.9,-45],[61.5,-1.6,-45],[53.4,-4.8,-60],[52,-7.6,-70],[50.7,-10.1,-85],[50,-12.6,-85],[49.3,-14.9,-90],[54,-19,-100],[58.8,-17.7,-90],[54,-21.7,-105],
[64,-20.8,-92],[49.3,-23.8,-115],[50,-26.8,-120],[50,-29.5,-120],[68.9,-31.1,-110],[50.7,-32.6,-120],[51.8,-35.8,-125],[52.7,-39,-130],[49.6,-41.2,-130],[48,-44.8,-135],[43.3,-44.6,-135],[41.9,-45.8,-135],
[40,-46.9,-135],[36.5,-47.7,60],[61.5,-47.3,-130]
];

var streamsD = [
[[-73.8,2.2],[-55.2,-6.5],[-40.7,-9.6]],[[-79.3,1],[-59.2,-11],[-40.7,-11.9],[-34.7,-11.9],[-33.8,-13.8],[-33.4,-26]],
[[-62.5,1],[-46,-6],[-36.7,-7.3],[-34,-7.7],[-33.4,-9.6]],[[-51.7,1],[-45.3,-2],[-39.6,-3.8]],
[[-79.3,-2.7],[-56.6,-14.2],[-38.7,-13.8]],[[-79.3,-6.3],[-54.6,-17.2],[-39.6,-15.8]],[[-79.3,-9.9],[-57.9,-19.4],[-38.3,-18.1]],
[[-79.3,-11.7],[-67.8,-15.6],[-63.8,-16.5]],[[-79.3,-13.6],[-57.5,-22.3],[-40.4,-20.5]],[[-79.3,-17.2],[-56.8,-23.8],[-39,-22.8]],
[[-79.3,-22.6],[-56.6,-26.9],[-41.7,-26.9]],[[-79.3,-26.2],[-55.2,-30],[-40.7,-29.6]],[[-79.3,-29.9],[-54.6,-33],[-38.3,-32.1]],
[[-78.8,-33.5],[-53.9,-36.2],[-39,-35.2]],[[-78.8,-35.4],[-53.9,-37.7],[-38.7,-36.6]],[[-78.8,-37.2],[-53.9,-39.2],[-38.3,-38.1]],
[[-78.8,-39],[-58.5,-40.9],[-43.3,-40.2]],[[-78.8,-40.8],[-58.1,-42.5],[-43.3,-41.8]],[[-78.8,-42.6],[-58.1,-44.2],[-48.2,-43.8]],
[[-78.8,-44.4],[-53.2,-45.7],[-36.7,-44],[-34.7,-46.9]],[[-78.8,-46.2],[-63.2,-47.4],[-53.2,-47.3]],[[-78,-48.8],[-52.6,-49.6],[-36,-47.9],[-34.7,-48.8]],
[[-35,1],[-33.4,-1.5],[-32.5,-5]],[[-32.5,-27.7],[-32.5,-43.3]],[[-24,1],[-28.7,-3],[-29.8,-5]],
[[-18.8,1],[-23.4,-5.2],[-30,-6.7],[-30,-8.8]],[[-13.5,1],[-20,-9],[-26,-10.4],[-29,-10],[-29.4,-11.5]],[[-14.2,-6.2],[-20,-11.2],[-25.4,-11.7]],
[[-7.8,1],[-15.5,-14.2],[-20.8,-15.3],[-28,-13.3],[-29,-15.2]],[[-7.5,-10],[-16.8,-17.9],[-23.4,-16.3]],[[-7.5,-15.4],[-14.8,-19.6],[-20,-18.5]],
[[-2.5,1],[-4.2,-15],[-9.5,-20.6],[-15.5,-21.2]],[[3.3,1],[6,-13],[8.5,-16.5]],[[3,-15.4],[5.7,-18.8],[15.6,-19.4]],
[[9,-8.1],[13.6,-14.9],[21.5,-16]],[[14.2,1],[17,-12.7],[27.5,-12.5]],[[19.6,1],[24.2,-4],[28,-5.3]],[[9,1],[18,-6],[24.6,-9.1]],
[[5.7,-18.5],[9,-21.2],[12,-21.8]],[[17,-20.4],[12,-21.9]],
[[-12.2,-22.5],[-4.2,-25.4],[-2.6,-32.1],[-2.3,-49.8]],[[-20.5,-20.8],[-9.5,-29.2],[-7.5,-49.8]],[[-29,-17.1],[-16.8,-27.7],[-12.2,-49.8]],
[[-26.8,-28.8],[-24.8,-37.5],[-24.1,-49.8]],[[-20.8,-32.3],[-19.5,-39.2],[-18.4,-49.8]],
[[19.2,-22.3],[11,-29.2],[10.3,-34],[9.9,-49.8]],[[24.9,-20.4],[17.6,-27.7],[16.3,-32.2],[15.6,-49.8]],[[22,-32.3],[20.5,-39.2],[20.9,-49.8]],[[28.2,-28.5],[25.8,-37.5],[25.6,-49.8]],
[[29.3,-49],[29.5,-23],[28.5,-15.5],[23.6,-18.1],[11,-22.1],[5.7,-25],[3.7,-49.8]],
[[32.8,-5.6],[34.2,-4],[39.5,-2.7],[47.4,1]],[[33.2,-9],[34.2,-6.5],[42.1,-5.6],[58.7,1]],[[34.2,-9.8],[48.7,-7.5],[69.2,1]],[[44.8,-9.8],[60.3,-5.6]],
[[34.2,-11.9],[54,-9.2],[79.2,1.2]],[[33.5,-14],[34.8,-12.1],[52.3,-12.3],[79.2,-2.7]],[[56,-14.2],[63.3,-12.2],[79.2,-6.3]],
[[34.6,-17.7],[37.5,-16.2],[54,-16],[79.2,-10]],[[63.7,-15.3],[66.4,-14.4],[79.2,-11.7]],[[34.6,-19.8],[36.8,-19.2],[52.3,-18.9],[79.2,-13.6]],
[[34.6,-21.9],[36.2,-20.4],[53.4,-20.4],[79.2,-17.2]],[[66.9,-19.2],[70,-18.5],[79.2,-16]],[[66.6,-21.1],[70,-20.4],[75.2,-19.2]],
[[39.9,-23.3],[47.4,-23.5],[58.4,-22.6]],[[34.6,-24.3],[50.7,-24.8],[75.2,-20.8]],[[33.5,-30.2],[34.8,-27.1],[50,-27.9],[75.2,-24.4]],
[[55.4,-30.6],[60.7,-30.3],[75.2,-28]],[[34.6,-32.7],[36.2,-31.3],[49.4,-32.3],[75.2,-29.9]],[[34.6,-33.8],[36.2,-33.1],[49.4,-33.8],[75.2,-31.7]],
[[39.5,-34.6],[54,-35.5],[75.2,-33.5]],[[34.6,-37.1],[36.2,-36.3],[48.7,-36.9],[75.2,-35.4]],[[49.1,-38.6],[59.3,-38.7],[75.2,-37.2]],
[[34.2,-41.5],[36.2,-39],[48.7,-40.1],[75.2,-39]],[[54.7,-41.9],[59.3,-42],[75.2,-40.8]],[[34.6,-45],[36.2,-42.1],[48.7,-43.3],[75.2,-42.6]],
[[43.8,-46.2],[59.3,-47],[75.2,-46.2]],[[34.6,-47.3],[52,-48.3],[79.2,-47.4]],[[34.6,-48.7],[47.4,-49.8]],[[53.4,-49.6],[59.3,-49.8],[74.3,-49.2]]
];
var arrowsD = [
[-55.2,-6.5,50],[-59.2,-11,60],[-40.7,-11.9,85],[-46,-6,60],[-45.3,-2,50],[-56.6,-14.2,60],[-54.6,-17.2,70],[-57.9,-19.4,70],[-67.8,-15.6,50],[-57.5,-22.3,80],[-56.8,-23.8,85],
[-56.6,-26.9,90],[-55.2,-30,90],[-54.6,-33,95],[-53.9,-36.2,92],[-53.9,-37.7,92],[-53.9,-39.2,92],[-58.5,-40.9,92],[-58.1,-42.5,92],[-58.1,-44.2,92],[-53.2,-45.7,92],[-63.2,-47.4,90],[-52.6,-49.6,92],
[-33,-2.3,0],[-29.4,-3,-20],[-24,-5.3,-50],[-20.4,-9.2,-55],[-20,-11.2,-50],[-16,-14.4,-50],[-16.8,-17.9,200],[-14.8,-19.6,200],[-4,-14.8,0],[6,-13,0],
[13.6,-14.9,20],[17,-12.7,20],[24.2,-4,15],[18,-6,20],[12,-21.8,-135],[-2.6,-32.1,180],[-9.3,-32.2,180],[-28,-17,200],[-24.8,-37.5,180],[-19.5,-39.2,180],
[10.3,-34,180],[16.3,-32.2,180],[20.5,-39.2,180],[25.8,-37.5,180],[24.2,-18,140],
[38.5,-2.8,-50],[42.1,-5.6,-60],[48.7,-7.5,-60],[46.8,-9.3,-55],[54,-9.2,-60],[52.3,-12.3,-75],[63.3,-12.2,-50],[54,-16,-75],[66.4,-14.4,-50],[52.3,-18.9,-85],[53.4,-20.4,-85],[70,-18.5,-50],[70,-20.4,-55],
[47.4,-23.5,-92],[50.7,-24.8,-90],[50,-27.9,-90],[60.7,-30.3,-75],[49.4,-32.3,-90],[49.4,-33.8,-90],[54,-35.5,-90],[48.7,-36.9,-90],[59.3,-38.7,-90],[48.7,-40.1,-90],[59.3,-42,-90],[48.7,-43.3,-90],[59.3,-47,-90],[52,-48.3,-90],[36.8,-48.5,60],[58,-49.7,-90]
];

var FONT = 'DejaVu Sans';
var panels = [
    {title: panelTitles[0], left: 151.6, zTicks: zTicksA, zMin: -5.34, zMax: -3.66, zUnit: 1, digits: 1, columns: columnsA, rows: rowsA, field: fieldA, streams: streamsA, arrows: arrowsA, wallTop: -3.66},
    {title: panelTitles[1], left: 745.6, zTicks: zTicksB, zMin: -1.6, zMax: 0.082, zUnit: 1, digits: 1, columns: columnsB, rows: rowsB, field: fieldB, streams: streamsB, arrows: arrowsB, wallTop: 0},
    {title: panelTitles[2], left: 1339.8, zTicks: zTicksC, zMin: -0.05, zMax: 0.0026, zUnit: 0.001, digits: 2, columns: columnsC, rows: rowsC, field: fieldC, streams: streamsC, arrows: arrowsC, wallTop: 0},
    {title: panelTitles[3], left: 1933.7, zTicks: zTicksD, zMin: -0.05, zMax: 0.0026, zUnit: 0.001, digits: 2, columns: columnsD, rows: rowsD, field: fieldD, streams: streamsD, arrows: arrowsD, wallTop: 0}
];
var panelWidth = 440;
var panelTop = 58;
var panelHeight = 697.7;
var shadeStep = 8; // size in px of the shading patches of the field

function flux_color(logValue) {
    var t = (logValue - logMin) / (logMax - logMin);
    return echarts.color.lerp(Math.max(0, Math.min(1, t)), viridis);
}

function minus_sign(text) {
    return String(text).replace('-', '\u2212');
}

// the field is shaded across the read cells, but never across a wall edge or a steep jump
function shade_cells(panel) {
    var columns = panel.columns, rows = panel.rows, field = panel.field;
    var cells = [];
    var xPx = panelWidth / 160;
    var zPx = panelHeight / ((panel.zMax - panel.zMin) / panel.zUnit);
    field.forEach(function (row, j) {
        row.forEach(function (value, i) {
            var width = columns[i + 1] - columns[i];
            var height = rows[j] - rows[j + 1];
            var nx = Math.max(1, Math.ceil(width * xPx / shadeStep));
            var nz = Math.max(1, Math.ceil(height * zPx / shadeStep));
            for (var a = 0; a < nx; a++) {
                for (var b = 0; b < nz; b++) {
                    var du = (a + 0.5) / nx - 0.5;
                    var dv = (b + 0.5) / nz - 0.5;
                    var ni = du < 0 ? i - 1 : i + 1;
                    var nj = dv < 0 ? j - 1 : j + 1;
                    var shade = value;
                    if (ni >= 0 && ni < row.length) {
                        var edge = columns[Math.max(i, ni)];
                        if (wallEdges.indexOf(edge) < 0 && Math.abs(row[ni] - value) <= 7) {
                            var otherWidth = columns[ni + 1] - columns[ni];
                            shade += (row[ni] - value) * Math.abs(du) * width / ((width + otherWidth) / 2);
                        }
                    }
                    if (nj >= 0 && nj < field.length) {
                        var otherHeight = rows[nj] - rows[nj + 1];
                        shade += (field[nj][i] - value) * Math.abs(dv) * height / ((height + otherHeight) / 2);
                    }
                    cells.push([
                        (columns[i] + width * a / nx) / 1000,
                        (columns[i] + width * (a + 1) / nx) / 1000,
                        (rows[j] - height * b / nz) * panel.zUnit,
                        (rows[j] - height * (b + 1) / nz) * panel.zUnit,
                        shade
                    ]);
                }
            }
        });
    });
    return cells;
}

function render_cell(params, api) {
    var a = api.coord([api.value(0), api.value(2)]);
    var b = api.coord([api.value(1), api.value(3)]);
    // snap to whole pixels so neighbouring patches leave no seams
    var x0 = Math.round(a[0]), y0 = Math.round(a[1]);
    var x1 = Math.round(b[0]), y1 = Math.round(b[1]);
    return {
        type: 'rect',
        shape: {x: x0, y: y0, width: x1 - x0, height: y1 - y0},
        style: {fill: flux_color(api.value(4) / 10), stroke: null}
    };
}

function build_chart() {
    var option = {
        animation: false,
        backgroundColor: '#fff',
        title: [], grid: [], xAxis: [], yAxis: [], series: []
    };

    panels.forEach(function (panel, index) {
        option.title.push({
            text: panel.title,
            left: panel.left + panelWidth / 2 - 3,
            top: 10,
            textAlign: 'center',
            textStyle: {fontFamily: FONT, fontSize: 39.5, fontWeight: 'normal', color: '#000'}
        });
        option.grid.push({left: panel.left, top: panelTop, width: panelWidth, height: panelHeight});
        option.xAxis.push({
            gridIndex: index, type: 'value', min: -0.08, max: 0.08,
            name: 'x (m)', nameLocation: 'middle', nameGap: 58,
            nameTextStyle: {fontFamily: FONT, fontSize: 34, color: '#000'},
            splitLine: {show: false},
            axisLine: {onZero: false, lineStyle: {color: '#000', width: 2}},
            axisTick: {customValues: xTicks, length: 7, lineStyle: {color: '#000', width: 2}},
            axisLabel: {
                customValues: xTicks, margin: 15, fontFamily: FONT, fontSize: 34, color: '#000',
                formatter: function (value) { return minus_sign(value.toFixed(2)); }
            }
        });
        option.yAxis.push({
            gridIndex: index, type: 'value', min: panel.zMin, max: panel.zMax,
            name: index === 0 ? 'z (m)' : '', nameLocation: 'middle', nameGap: 112, nameRotate: 90,
            nameTextStyle: {fontFamily: FONT, fontSize: 34, color: '#000'},
            splitLine: {show: false},
            axisLine: {onZero: false, lineStyle: {color: '#000', width: 2}},
            axisTick: {customValues: panel.zTicks, length: 7, lineStyle: {color: '#000', width: 2}},
            axisLabel: {
                customValues: panel.zTicks, margin: 12, fontFamily: FONT, fontSize: 34, color: '#000',
                formatter: function (value) { return minus_sign(value.toFixed(panel.digits)); }
            }
        });

        // background field
        option.series.push({
            type: 'custom', xAxisIndex: index, yAxisIndex: index, silent: true, clip: true, z: 1,
            encode: {x: [0, 1], y: [2, 3]}, renderItem: render_cell, data: shade_cells(panel)
        });

        // conductor walls
        var bottom = panel.zMin;
        var top = panel.wallTop;
        option.series.push({
            type: 'line', xAxisIndex: index, yAxisIndex: index, silent: true, symbol: 'none', z: 2,
            lineStyle: {color: '#000', width: 1.2},
            data: [[wallEdges[0] / 1000, bottom], [wallEdges[0] / 1000, top], [wallEdges[1] / 1000, top], [wallEdges[1] / 1000, bottom]]
        });
        option.series.push({
            type: 'line', xAxisIndex: index, yAxisIndex: index, silent: true, symbol: 'none', z: 2,
            lineStyle: {color: '#000', width: 1.2},
            data: [[wallEdges[2] / 1000, bottom], [wallEdges[2] / 1000, top], [wallEdges[3] / 1000, top], [wallEdges[3] / 1000, bottom]]
        });

        // streamlines
        panel.streams.forEach(function (stream) {
            option.series.push({
                type: 'line', xAxisIndex: index, yAxisIndex: index, silent: true, symbol: 'none', smooth: 0.3, z: 3,
                lineStyle: {color: '#000', width: 3.2, cap: 'round'},
                data: stream.map(function (p) { return [p[0] / 1000, p[1] * panel.zUnit]; })
            });
        });
        option.series.push({
            type: 'scatter', xAxisIndex: index, yAxisIndex: index, silent: true, z: 4,
            symbol: 'triangle', symbolSize: [15, 15],
            symbolRotate: function (value) { return value[2]; },
            itemStyle: {color: '#000', opacity: 1},
            data: panel.arrows.map(function (p) { return [p[0] / 1000, p[1] * panel.zUnit, p[2]]; })
        });

        // frame on top of the field
        option.series.push({
            type: 'line', xAxisIndex: index, yAxisIndex: index, silent: true, symbol: 'none', z: 5, clip: false,
            lineStyle: {color: '#000', width: 2},
            data: [[-0.08, panel.zMin], [-0.08, panel.zMax], [0.08, panel.zMax], [0.08, panel.zMin], [-0.08, panel.zMin]]
        });
    });

    // colorbar
    var barIndex = panels.length;
    var minorTicks = [];
    for (var e = -11; e < -3; e++) {
        for (var k = 2; k < 10; k++) {
            var tick = e + Math.log10(k);
            if (tick > logMin && tick < logMax) minorTicks.push([tick]);
        }
    }
    option.grid.push({left: 371, top: 879, width: 1801, height: 35});
    option.xAxis.push({
        gridIndex: barIndex, type: 'value', min: logMin, max: logMax,
        name: 'Magnetic flux density (T)', nameLocation: 'middle', nameGap: 60,
        nameTextStyle: {fontFamily: FONT, fontSize: 33.5, color: '#000'},
        splitLine: {show: false},
        axisLine: {onZero: false, lineStyle: {color: '#000', width: 2}},
        axisTick: {customValues: colorbarTicks, length: 8, lineStyle: {color: '#000', width: 1.6}},
        axisLabel: {
            customValues: colorbarTicks, margin: 15,
            formatter: function (value) { return '{b|10}{s|' + minus_sign(value) + '}'; },
            rich: {
                b: {fontFamily: FONT, fontSize: 34, color: '#000'},
                s: {fontFamily: FONT, fontSize: 24, color: '#000', padding: [0, 0, 14, 0]}
            }
        }
    });
    option.yAxis.push({gridIndex: barIndex, type: 'value', min: 0, max: 1, show: false});
    option.series.push({
        type: 'custom', xAxisIndex: barIndex, yAxisIndex: barIndex, silent: true, z: 1,
        encode: {x: 0, y: 1},
        renderItem: function (params, api) {
            var a = api.coord([logMin, 1]);
            var b = api.coord([logMax, 0]);
            return {
                type: 'rect',
                shape: {x: a[0], y: a[1], width: b[0] - a[0], height: b[1] - a[1]},
                style: {
                    fill: new echarts.graphic.LinearGradient(0, 0, 1, 0, viridis.map(function (color, i) {
                        return {offset: i / (viridis.length - 1), color: color};
                    }))
                }
            };
        },
        data: [[logMin, 0]]
    });
    option.series.push({
        type: 'custom', xAxisIndex: barIndex, yAxisIndex: barIndex, silent: true, clip: false, z: 2,
        encode: {x: 0},
        renderItem: function (params, api) {
            var p = api.coord([api.value(0), 0]);
            return {type: 'line', shape: {x1: p[0], y1: p[1], x2: p[0], y2: p[1] + 5}, style: {stroke: '#000', lineWidth: 1.2}};
        },
        data: minorTicks
    });
    option.series.push({
        type: 'line', xAxisIndex: barIndex, yAxisIndex: barIndex, silent: true, symbol: 'none', z: 5, clip: false,
        lineStyle: {color: '#000', width: 2},
        data: [[logMin, 0], [logMin, 1], [logMax, 1], [logMax, 0], [logMin, 0]]
    });

    return option;
}

var myChart = echarts.init(document.getElementById('chart'), null, {renderer: 'canvas'});
myChart.setOption(build_chart());
</script>
</body>
</html>
